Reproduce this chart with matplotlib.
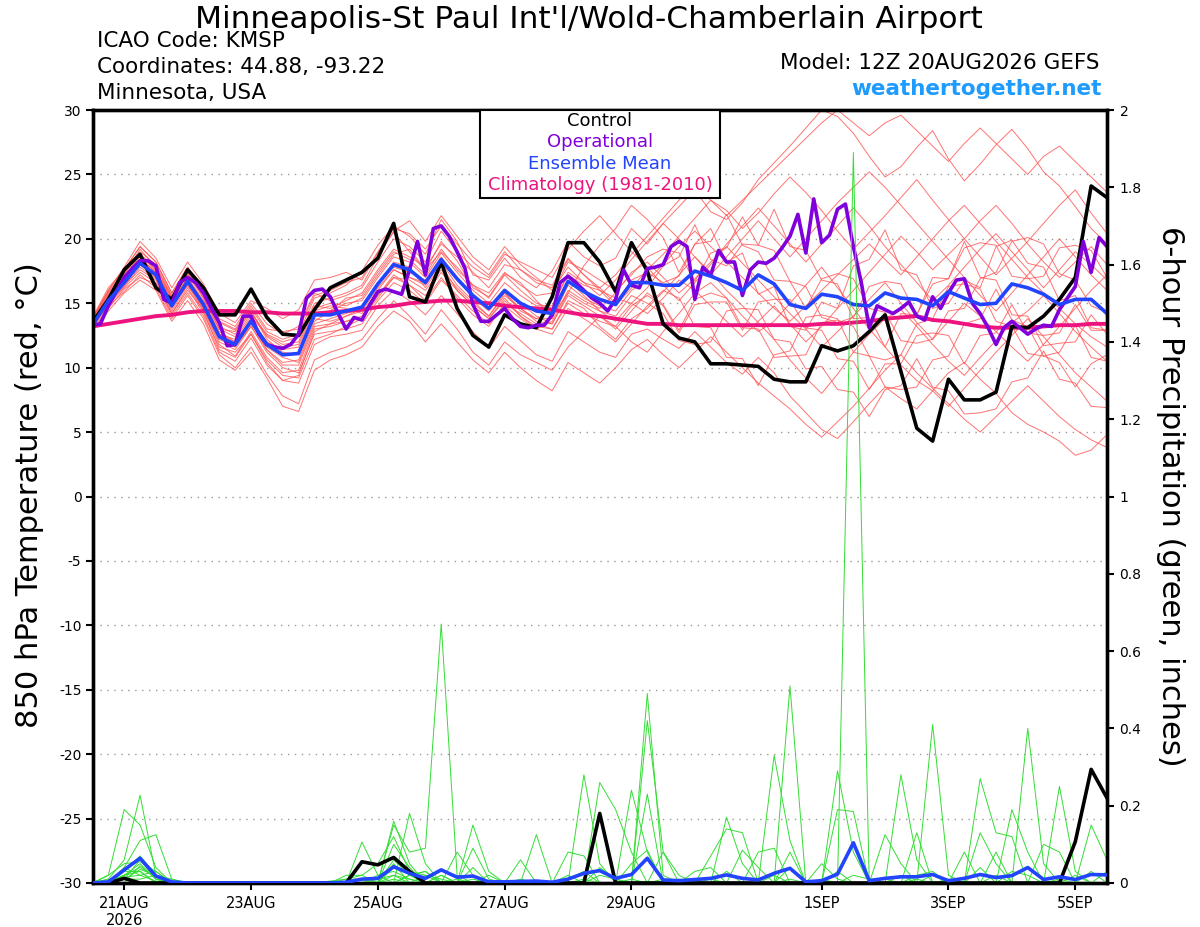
import numpy as np
import matplotlib
matplotlib.use('Agg')
import matplotlib.pyplot as plt
from matplotlib.patches import Rectangle

plt.rcParams['font.family'] = ['DejaVu Sans']

# ---------------- data ----------------
steps = np.arange(65)  # 6-hourly steps from 12Z 20AUG2026
tick_steps = [2, 10, 18, 26, 34, 46, 54, 62]
tick_labels = ['21AUG\n2026', '23AUG', '25AUG', '27AUG', '29AUG', '1SEP', '3SEP', '5SEP']

control = [13.5, 15.3, 17.6, 18.8, 16.2, 15.3, 17.6, 16.2, 14.1, 14.1, 16.1, 13.9, 12.6, 12.5, 14.5, 16.2,
           16.8, 17.4, 18.5, 21.2, 15.5, 15.1, 18.2, 14.6, 12.5, 11.6, 14.1, 13.4, 13.1, 15.5, 19.7, 19.7,
           18.2, 15.9, 19.7, 17.5, 13.4, 12.3, 12.0, 10.3, 10.3, 10.2, 10.1, 9.1, 8.9, 8.9, 11.7, 11.3,
           11.7, 12.8, 14.1, 9.7, 5.3, 4.3, 9.1, 7.5, 7.5, 8.1, 13.2, 13.1, 14.0, 15.3, 17.0, 24.1, 23.2]

ens_mean = [13.3, 15.2, 16.6, 18.1, 17.2, 14.8, 16.7, 14.9, 12.4, 11.8, 13.6, 11.8, 11.0, 11.1, 14.1, 14.1,
            14.4, 14.7, 16.5, 18.0, 17.6, 16.6, 18.4, 16.9, 15.6, 14.6, 16.0, 15.0, 14.4, 14.2, 16.7, 15.9,
            15.3, 14.9, 16.6, 16.6, 16.4, 16.4, 17.5, 17.1, 16.6, 16.0, 17.2, 16.5, 14.9, 14.6, 15.7, 15.5,
            14.9, 14.8, 15.8, 15.4, 15.3, 14.8, 15.9, 15.4, 14.9, 15.0, 16.5, 16.2, 15.7, 14.9, 15.3, 15.3, 14.2]

climatology = [13.2, 13.4, 13.6, 13.8, 14.0, 14.1, 14.3, 14.4, 14.4, 14.4, 14.3, 14.3, 14.2, 14.2, 14.2, 14.3,
               14.4, 14.5, 14.7, 14.8, 15.0, 15.1, 15.2, 15.2, 15.1, 15.0, 14.8, 14.7, 14.6, 14.5, 14.3, 14.1,
               14.0, 13.8, 13.6, 13.4, 13.4, 13.3, 13.3, 13.3, 13.3, 13.3, 13.3, 13.3, 13.3, 13.3, 13.4, 13.4,
               13.5, 13.6, 13.8, 13.9, 14.0, 13.7, 13.6, 13.4, 13.2, 13.1, 13.1, 13.1, 13.2, 13.3, 13.3, 13.4, 13.4]

# operational run, 3-hourly
operational = [13.3, 13.4, 14.8, 15.9, 17.0, 17.7, 18.3, 18.3, 17.9, 15.3, 15.0, 16.6, 17.0, 16.6, 15.8, 14.6,
               13.5, 11.7, 11.8, 14.0, 14.0, 12.6, 11.8, 11.6, 11.5, 11.8, 12.6, 15.4, 16.0, 16.1, 15.5, 14.2,
               13.0, 13.9, 13.7, 14.9, 15.9, 16.1, 15.9, 15.7, 17.6, 19.8, 17.2, 20.8, 21.0, 20.2, 19.0, 17.7,
               14.9, 13.6, 13.6, 14.1, 14.6, 13.8, 13.2, 13.1, 13.3, 13.3, 14.1, 16.6, 17.1, 16.6, 16.0, 15.4,
               15.0, 14.4, 15.3, 17.6, 16.4, 16.2, 17.7, 17.8, 18.0, 19.4, 19.8, 19.4, 15.3, 17.8, 17.2, 19.1,
               18.2, 18.2, 15.6, 17.6, 18.2, 18.1, 18.5, 19.3, 20.2, 21.9, 18.9, 23.1, 19.7, 20.3, 22.3, 22.7,
               19.4, 16.6, 13.1, 14.8, 14.5, 14.2, 14.6, 15.1, 14.0, 13.7, 15.5, 14.6, 15.8, 16.8, 16.9, 15.0,
               14.2, 13.1, 11.8, 13.1, 13.6, 13.1, 12.6, 13.0, 13.3, 13.2, 14.5, 15.4, 16.3, 19.8, 17.4, 20.1, 19.4]

members = [
    [13.6, 15.8, 17.2, 19.2, 17.8, 15.5, 17.4, 15.8, 13.5, 12.9, 14.6, 12.8, 12.2, 12.6, 15.4, 15.8, 16.4, 17.5, 19.5, 21.0,
     20.2, 18.8, 21.5, 19.8, 17.2, 16.8, 18.5, 17.0, 16.2, 17.5, 19.8, 18.6, 17.9, 18.5, 20.8, 19.6, 21.2, 22.5, 23.8, 22.1,
     21.5, 22.8, 24.6, 25.9, 27.2, 28.6, 30.0, 29.5, 28.2, 26.4, 24.8, 25.6, 27.1, 28.4, 26.2, 24.5, 25.8, 27.3, 28.5, 27.0,
     25.2, 24.1, 22.5, 20.8, 19.6],
    [13.0, 14.6, 16.1, 17.0, 16.5, 14.0, 15.8, 14.0, 11.2, 10.5, 12.3, 10.2, 9.0, 8.8, 11.8, 12.4, 12.6, 12.9, 14.8, 16.0,
     15.2, 14.1, 15.6, 14.2, 12.8, 11.5, 13.2, 12.1, 11.0, 10.5, 12.8, 12.0, 11.2, 10.8, 12.6, 13.0, 12.2, 11.5, 12.8, 11.6,
     10.4, 9.5, 10.8, 9.6, 7.8, 6.5, 5.2, 4.5, 5.8, 7.2, 8.5, 7.6, 6.8, 8.2, 9.6, 10.4, 9.1, 8.0, 6.5, 5.6,
     5.0, 4.3, 3.2, 3.6, 4.8],
    [13.8, 16.0, 17.8, 19.8, 18.5, 16.2, 18.2, 16.5, 14.2, 13.5, 15.2, 14.6, 13.8, 14.5, 16.8, 17.0, 17.4, 16.8, 18.9, 20.5,
     19.0, 17.5, 19.8, 18.3, 16.2, 15.5, 17.3, 16.6, 15.2, 14.0, 15.8, 17.9, 19.5, 20.8, 22.6, 21.5, 20.1, 17.4, 19.6, 20.8,
     18.2, 18.9, 15.7, 16.3, 13.2, 12.9, 15.1, 14.6, 17.9, 18.4, 20.7, 17.6, 17.2, 14.6, 15.0, 16.8, 16.2, 19.4, 19.9, 18.1,
     17.8, 15.2, 15.6, 13.1, 12.9],
    [13.2, 15.0, 16.4, 17.6, 16.8, 14.2, 16.0, 14.5, 11.8, 10.9, 12.8, 10.8, 9.6, 9.8, 13.0, 13.2, 13.6, 14.0, 15.6, 17.2,
     16.4, 15.2, 17.0, 15.4, 14.1, 13.2, 15.0, 14.2, 13.4, 13.0, 15.2, 14.6, 13.2, 12.2, 13.8, 14.6, 15.9, 17.2, 18.6, 17.4,
     16.0, 14.8, 13.5, 12.2, 10.6, 9.2, 8.0, 9.5, 11.2, 12.6, 13.8, 14.5, 13.2, 11.8, 10.5, 9.4, 10.8, 12.1, 13.5, 14.4,
     15.6, 14.2, 12.8, 11.6, 10.5],
    [13.5, 15.6, 17.0, 18.8, 17.6, 15.0, 16.9, 15.1, 12.6, 12.2, 14.0, 12.5, 11.8, 12.0, 14.8, 14.6, 15.2, 15.8, 17.6, 19.2,
     18.6, 17.8, 19.6, 18.6, 17.4, 16.2, 18.0, 17.6, 16.8, 16.4, 18.5, 17.2, 16.0, 14.8, 16.2, 17.6, 18.8, 20.2, 21.6, 23.0,
     22.2, 20.8, 22.0, 23.5, 24.8, 23.6, 22.2, 20.6, 19.2, 20.5, 21.8, 23.2, 24.6, 23.0, 21.5, 20.0, 18.6, 17.2, 18.5, 19.8,
     21.2, 22.6, 23.8, 22.0, 20.4],
    [13.1, 14.8, 15.9, 17.2, 16.2, 13.8, 15.6, 13.8, 11.0, 10.0, 11.6, 9.5, 7.8, 7.2, 10.6, 11.2, 11.6, 12.2, 13.8, 15.2,
     14.0, 12.6, 14.5, 13.0, 11.2, 10.2, 12.0, 11.0, 10.4, 9.8, 11.6, 12.8, 14.0, 13.2, 12.0, 11.2, 12.8, 14.2, 15.8, 16.6,
     15.4, 14.0, 12.8, 13.6, 15.0, 16.4, 17.8, 16.2, 14.6, 13.0, 11.6, 10.2, 9.0, 8.2, 7.0, 8.4, 9.8, 11.2, 12.5, 13.8,
     12.4, 11.0, 9.6, 8.5, 7.4],
    [13.4, 15.4, 16.9, 18.4, 17.5, 15.4, 17.3, 15.6, 13.2, 12.6, 14.4, 12.2, 11.2, 11.0, 13.8, 13.6, 14.0, 14.6, 16.4, 18.2,
     17.8, 16.2, 18.0, 16.0, 14.8, 13.8, 15.4, 14.0, 13.0, 13.6, 16.0, 15.2, 14.6, 15.8, 17.4, 18.2, 17.0, 15.8, 16.9, 18.2,
     19.4, 18.1, 16.8, 15.5, 14.2, 13.0, 11.6, 12.8, 14.0, 15.3, 16.6, 15.0, 13.5, 12.2, 13.6, 15.0, 14.0, 12.8, 11.6, 10.5,
     11.8, 13.2, 14.6, 16.0, 17.2],
    [13.3, 15.1, 16.5, 18.0, 17.0, 14.6, 16.6, 14.6, 12.0, 11.4, 13.2, 11.4, 10.4, 10.6, 13.6, 14.4, 15.0, 15.2, 17.0, 18.6,
     18.2, 17.0, 18.9, 17.4, 16.0, 15.0, 16.6, 15.6, 14.8, 14.8, 17.2, 16.4, 16.0, 15.4, 15.0, 14.2, 15.4, 16.8, 16.0, 14.8,
     13.6, 12.4, 13.6, 14.8, 13.4, 12.0, 13.2, 14.6, 16.0, 17.4, 18.8, 20.2, 19.0, 17.6, 18.8, 20.0, 21.4, 22.6, 21.2, 19.6,
     18.2, 17.0, 18.2, 19.4, 18.0],
    [13.9, 16.2, 17.6, 19.4, 18.2, 15.8, 17.8, 16.0, 13.8, 13.2, 15.0, 13.4, 12.6, 13.2, 15.8, 15.2, 15.6, 16.2, 18.2, 20.0,
     19.4, 18.2, 20.6, 19.0, 17.8, 17.0, 18.8, 18.2, 17.6, 17.0, 19.2, 20.6, 21.8, 20.4, 19.0, 17.8, 16.4, 15.2, 16.6, 18.0,
     19.6, 21.0, 22.4, 21.0, 19.6, 18.2, 19.6, 21.0, 22.4, 21.0, 19.4, 18.0, 16.6, 15.2, 16.4, 17.8, 19.2, 20.4, 19.0, 17.6,
     16.2, 17.6, 19.0, 18.0, 16.8],
    [13.0, 14.4, 15.8, 16.8, 16.0, 13.6, 15.2, 13.4, 10.6, 9.8, 11.2, 9.2, 7.0, 6.6, 9.8, 10.6, 11.0, 11.6, 13.2, 14.4,
     13.6, 12.0, 13.4, 12.0, 10.6, 9.6, 11.2, 10.0, 9.0, 8.2, 10.4, 9.6, 8.8, 10.0, 11.4, 12.2, 11.0, 10.0, 11.2, 12.4,
     11.2, 10.0, 8.8, 7.8, 6.8, 5.6, 4.6, 5.8, 7.0, 8.4, 9.8, 11.0, 9.6, 8.4, 7.2, 6.0, 5.0, 6.2, 7.4, 8.6,
     7.4, 6.2, 5.2, 4.4, 3.8],
    [13.6, 15.5, 17.0, 18.6, 17.6, 15.2, 17.0, 15.2, 12.8, 12.0, 13.8, 12.0, 11.4, 11.6, 14.4, 14.8, 14.6, 14.2, 16.0, 17.6,
     17.0, 16.6, 18.4, 17.0, 15.4, 14.4, 15.8, 14.6, 13.8, 14.4, 16.8, 15.6, 14.4, 13.6, 15.0, 16.2, 17.9, 18.6, 21.1, 18.4,
     17.9, 19.6, 19.5, 22.3, 19.4, 19.1, 16.8, 16.5, 13.8, 13.9, 11.6, 14.2, 14.1, 17.0, 16.9, 19.8, 17.0, 16.8, 14.1, 14.0,
     11.7, 11.9, 12.0, 14.1, 12.6],
    [13.2, 15.2, 16.8, 18.2, 17.2, 14.8, 16.8, 15.0, 12.4, 11.6, 13.4, 11.6, 10.8, 10.4, 13.4, 13.8, 14.2, 14.6, 16.4, 17.8,
     17.4, 16.8, 18.6, 16.8, 15.6, 14.6, 16.0, 15.0, 14.0, 13.4, 15.6, 14.8, 14.0, 13.0, 14.4, 15.8, 14.9, 12.9, 15.3, 15.8,
     15.4, 13.1, 13.0, 10.8, 10.9, 11.0, 13.5, 13.7, 13.2, 10.9, 10.6, 11.0, 13.4, 13.8, 16.3, 16.5, 16.1, 13.6, 13.2, 11.1,
     10.9, 11.2, 13.3, 10.8, 10.5],
    [13.7, 15.9, 17.4, 19.0, 18.0, 15.6, 17.6, 15.4, 13.0, 12.4, 14.2, 12.6, 12.0, 12.4, 15.0, 15.4, 15.8, 16.4, 18.6, 20.6,
     21.4, 19.8, 21.8, 20.2, 18.6, 17.6, 19.4, 18.0, 17.0, 16.0, 17.8, 16.6, 15.6, 16.8, 18.4, 19.8, 21.2, 20.0, 18.6, 17.2,
     18.6, 20.0, 21.4, 20.0, 18.6, 20.0, 21.4, 22.8, 24.0, 25.2, 24.0, 22.6, 21.2, 19.8, 18.4, 17.0, 15.6, 14.4, 15.8, 17.2,
     18.6, 20.0, 18.6, 17.2, 16.0],
    [13.4, 15.3, 16.6, 18.0, 17.2, 14.8, 16.4, 14.6, 12.2, 11.6, 13.2, 11.2, 10.0, 9.6, 12.6, 12.8, 13.0, 13.4, 15.2, 16.6,
     16.0, 15.0, 16.8, 15.6, 14.4, 13.4, 14.8, 13.8, 13.0, 12.6, 14.6, 13.8, 13.0, 12.0, 13.4, 14.8, 16.0, 15.4, 13.2, 13.1,
     10.8, 10.7, 8.6, 11.0, 11.3, 13.9, 14.1, 13.8, 11.2, 10.9, 8.5, 8.3, 8.5, 10.6, 10.9, 13.4, 13.8, 16.1, 13.7, 13.2,
     10.9, 10.4, 8.5, 10.3, 11.0],
    [13.5, 15.5, 17.0, 18.4, 17.4, 15.0, 17.0, 15.0, 12.6, 12.0, 13.8, 11.8, 11.0, 11.2, 14.2, 14.4, 15.4, 15.6, 17.4, 19.0,
     18.4, 17.2, 19.2, 17.6, 16.4, 15.4, 17.2, 16.0, 15.0, 14.6, 17.4, 16.6, 16.2, 15.0, 16.8, 17.4, 16.6, 17.1, 19.6, 19.8,
     21.9, 19.5, 19.0, 16.8, 16.7, 14.6, 16.9, 17.3, 16.9, 14.6, 14.3, 12.1, 11.9, 12.2, 14.4, 14.6, 16.9, 17.4, 19.8, 20.1,
     19.6, 17.3, 16.8, 14.8, 14.3],
    [13.3, 14.9, 16.2, 17.4, 16.6, 14.2, 16.2, 14.2, 11.6, 11.2, 12.6, 10.6, 9.4, 9.2, 12.2, 12.6, 13.2, 13.8, 15.6, 17.0,
     16.8, 16.0, 17.6, 16.2, 15.0, 14.0, 15.6, 14.6, 13.6, 13.4, 15.8, 15.0, 14.4, 14.0, 15.6, 15.0, 14.2, 12.1, 11.8, 12.0,
     14.4, 14.6, 14.5, 12.2, 12.0, 9.9, 10.1, 8.3, 8.1, 6.2, 8.3, 8.6, 10.7, 8.5, 8.2, 6.4, 6.5, 6.8, 8.9, 9.2,
     11.3, 9.1, 8.8, 7.0, 6.9],
    [13.6, 15.7, 17.3, 18.8, 17.8, 15.4, 17.2, 15.4, 13.0, 12.8, 14.4, 12.4, 11.6, 11.8, 14.6, 15.0, 14.8, 15.4, 17.2, 18.8,
     19.2, 17.6, 19.0, 17.8, 16.4, 15.8, 17.4, 16.4, 15.6, 15.8, 18.2, 17.6, 16.8, 16.0, 17.2, 18.6, 19.2, 18.9, 16.7, 18.9,
     19.3, 21.7, 19.5, 19.1, 16.7, 16.3, 13.9, 13.5, 13.9, 16.3, 16.7, 16.5, 14.1, 16.5, 16.9, 19.3, 19.7, 19.5, 17.1, 16.9,
     17.1, 19.3, 19.5, 19.1, 17.0],
    [13.2, 15.0, 16.3, 17.8, 16.9, 14.4, 16.4, 14.4, 11.4, 10.8, 12.6, 10.4, 9.0, 9.4, 12.8, 13.4, 14.0, 14.4, 16.2, 17.6,
     17.0, 16.4, 18.2, 16.4, 15.2, 14.0, 15.8, 14.4, 13.8, 13.8, 16.4, 15.4, 14.8, 14.4, 16.0, 16.8, 18.0, 19.4, 20.6, 19.4,
     18.2, 17.0, 15.8, 14.6, 13.6, 14.8, 16.0, 17.2, 18.4, 19.6, 18.4, 17.2, 18.6, 20.0, 21.4, 22.6, 21.2, 19.8, 18.4, 17.0,
     15.8, 14.6, 13.4, 12.4, 11.6],
    [13.4, 15.2, 16.8, 18.4, 17.4, 15.0, 16.8, 15.0, 12.6, 11.8, 13.6, 11.4, 10.2, 10.2, 13.2, 13.4, 13.6, 13.8, 15.4, 17.0,
     16.4, 15.6, 17.4, 16.0, 14.8, 13.8, 15.2, 14.0, 13.2, 13.0, 15.0, 14.2, 13.6, 13.2, 14.8, 15.6, 14.8, 12.7, 14.9, 15.1,
     15.1, 12.9, 15.1, 15.3, 15.3, 13.1, 12.9, 10.7, 10.5, 8.3, 10.3, 10.3, 12.5, 12.7, 12.5, 10.3, 12.5, 12.7, 14.9, 12.7,
     12.5, 12.7, 14.9, 12.9, 12.9],
    [13.8, 16.0, 17.6, 19.4, 18.2, 15.8, 17.8, 16.2, 13.6, 13.0, 14.8, 13.0, 12.8, 13.0, 15.6, 16.0, 16.6, 17.0, 19.0, 20.8,
     20.4, 19.2, 21.0, 19.6, 18.2, 17.2, 19.0, 17.6, 16.6, 16.2, 18.4, 17.2, 16.2, 17.2, 18.8, 20.2, 21.6, 23.0, 24.2, 23.0,
     21.8, 23.0, 24.2, 25.4, 26.6, 27.8, 29.0, 30.0, 29.0, 28.0, 29.0, 29.6, 28.4, 27.2, 26.0, 27.4, 28.6, 27.4, 26.2, 25.0,
     26.4, 27.2, 26.0, 24.8, 23.6],
]

precip_control = [0, 0, 0.012, 0, 0, 0, 0, 0, 0, 0, 0, 0, 0, 0, 0, 0,
                  0, 0.055, 0.047, 0.066, 0.03, 0, 0, 0, 0, 0, 0, 0, 0, 0, 0, 0,
                  0.18, 0, 0, 0, 0, 0, 0, 0, 0, 0, 0, 0, 0, 0, 0, 0,
                  0, 0, 0, 0, 0, 0, 0, 0, 0, 0, 0, 0, 0, 0, 0.107, 0.294, 0.22]

precip_mean = [0, 0.003, 0.034, 0.064, 0.018, 0.003, 0, 0, 0, 0, 0, 0, 0, 0, 0, 0,
               0.002, 0.01, 0.012, 0.042, 0.025, 0.012, 0.034, 0.015, 0.018, 0.003, 0.003, 0.004, 0.005, 0.002, 0.01, 0.025,
               0.032, 0.012, 0.022, 0.064, 0.008, 0.006, 0.009, 0.012, 0.021, 0.012, 0.008, 0.025, 0.038, 0.003, 0.006, 0.023,
               0.104, 0.006, 0.012, 0.016, 0.016, 0.022, 0.006, 0.012, 0.022, 0.014, 0.019, 0.04, 0.009, 0.016, 0.009, 0.022, 0.021]

# precipitation members: {step: inches}; unlisted steps are 0
precip_member_events = [
    {1: 0.02, 2: 0.19, 3: 0.15, 4: 0.04, 19: 0.16, 20: 0.05, 22: 0.02, 35: 0.49, 36: 0.02, 44: 0.08, 53: 0.41, 54: 0.02},
    {1: 0.01, 2: 0.06, 3: 0.227, 4: 0.02, 17: 0.106, 18: 0.02, 24: 0.15, 25: 0.03, 40: 0.17, 41: 0.05, 48: 1.89, 56: 0.13, 57: 0.05},
    {2: 0.04, 3: 0.11, 4: 0.125, 5: 0.01, 20: 0.18, 21: 0.05, 31: 0.28, 32: 0.05, 43: 0.33, 44: 0.11, 59: 0.40, 60: 0.05},
    {2: 0.03, 3: 0.07, 4: 0.02, 19: 0.15, 20: 0.08, 21: 0.09, 22: 0.67, 23: 0.02, 34: 0.24, 35: 0.08, 47: 0.19, 48: 0.185, 61: 0.25, 62: 0.03},
    {1: 0.02, 2: 0.05, 3: 0.055, 4: 0.03, 16: 0.02, 17: 0.02, 18: 0.05, 19: 0.12, 20: 0.03, 32: 0.26, 33: 0.19, 34: 0.08, 44: 0.51, 51: 0.28, 52: 0.06, 63: 0.15, 64: 0.06},
    {2: 0.02, 3: 0.04, 4: 0.015, 19: 0.10, 20: 0.04, 24: 0.09, 25: 0.01, 28: 0.125, 35: 0.42, 36: 0.08, 47: 0.29, 48: 0.08, 58: 0.19, 59: 0.08},
    {2: 0.03, 3: 0.03, 19: 0.06, 20: 0.02, 21: 0.03, 23: 0.08, 24: 0.02, 27: 0.06, 30: 0.08, 31: 0.07, 35: 0.23, 39: 0.07, 40: 0.14, 41: 0.13, 52: 0.13, 56: 0.27, 57: 0.13, 58: 0.12},
    {1: 0.01, 2: 0.01, 3: 0.06, 4: 0.01, 16: 0.01, 17: 0.01, 19: 0.04, 20: 0.03, 21: 0.02, 30: 0.02, 32: 0.04, 33: 0.01, 38: 0.03, 39: 0.04, 42: 0.08, 43: 0.09, 50: 0.125, 51: 0.05, 55: 0.08, 60: 0.1, 61: 0.08},
    {2: 0.04, 3: 0.02, 4: 0.03, 18: 0.02, 19: 0.03, 20: 0.01, 26: 0.005, 36: 0.08, 37: 0.02, 41: 0.085, 42: 0.04, 46: 0.05, 47: 0.01, 57: 0.08, 64: 0.03},
    {2: 0.02, 3: 0.05, 4: 0.01, 15: 0.005, 16: 0.01, 17: 0.02, 19: 0.05, 21: 0.02, 22: 0.01, 24: 0.04, 34: 0.05, 35: 0.085, 44: 0.04, 52: 0.02, 53: 0.03, 62: 0.02},
    {2: 0.01, 3: 0.035, 4: 0.02, 5: 0.01, 20: 0.02, 21: 0.03, 25: 0.02, 30: 0.01, 31: 0.03, 39: 0.01, 43: 0.02, 47: 0.03, 54: 0.01, 56: 0.04},
    {3: 0.045, 4: 0.01, 18: 0.01, 19: 0.02, 20: 0.01, 23: 0.01, 32: 0.02, 33: 0.01, 40: 0.03, 48: 0.02, 49: 0.01, 50: 0.01, 58: 0.03, 59: 0.02},
    {2: 0.015, 3: 0.02, 4: 0.005, 19: 0.01, 24: 0.01, 31: 0.01, 34: 0.01, 44: 0.01, 52: 0.01, 61: 0.01},
    {1: 0.005, 2: 0.02, 3: 0.03, 20: 0.02, 27: 0.01, 36: 0.01, 46: 0.01, 53: 0.02, 63: 0.03},
    {2: 0.01, 3: 0.01, 4: 0.02, 19: 0.02, 22: 0.02, 37: 0.01, 51: 0.02, 57: 0.02},
]

title = "Minneapolis-St Paul Int'l/Wold-Chamberlain Airport"
header_left = ["ICAO Code: KMSP", "Coordinates: 44.88, -93.22", "Minnesota, USA"]
model_text = "Model: 12Z 20AUG2026 GEFS"
site_text = "weathertogether.net"
legend_items = [("Control", "#000000"), ("Operational", "#8000DC"),
                ("Ensemble Mean", "#2244FF"), ("Climatology (1981-2010)", "#EE1480")]

# ---------------- figure ----------------
W, H = 1200, 927
fig = plt.figure(figsize=(W / 100, H / 100), dpi=100)
L, R, T, B = 92.5, 1107, 110, 883
ax = fig.add_axes([L / W, 1 - B / H, (R - L) / W, (B - T) / H])
ax2 = ax.twinx()

red = '#FF5050'
green = '#33DD33'
for m in members:
    ax.plot(steps[:len(m)], m, color=red, lw=0.7, alpha=0.8, zorder=1)
ax.plot(steps[:len(climatology)], climatology, color='#EE1480', lw=2.8, zorder=3, solid_capstyle='butt')
ax.plot(steps[:len(control)], control, color='black', lw=2.6, zorder=4)
op_x = np.arange(len(operational)) * 0.5
ax.plot(op_x, operational, color='#8000DC', lw=2.6, zorder=5)
ax.plot(steps[:len(ens_mean)], ens_mean, color='#2244FF', lw=2.6, zorder=6)

for ev in precip_member_events:
    arr = np.zeros(len(steps))
    for k, v in ev.items():
        arr[k] = v
    ax2.plot(steps, arr, color=green, lw=0.7, zorder=2)
ax2.plot(steps[:len(precip_control)], precip_control, color='black', lw=2.6, zorder=4)
ax2.plot(steps[:len(precip_mean)], precip_mean, color='#2244FF', lw=2.6, zorder=6)

ax.set_xlim(0, 64)
ax.set_ylim(-30, 30)
ax2.set_ylim(0, 2)
ax.set_yticks(np.arange(-30, 31, 5))
ax.set_yticklabels([str(v) for v in range(-30, 31, 5)])
r_ticks = np.round(np.arange(0, 2.01, 0.2), 1)
ax2.set_yticks(r_ticks)
ax2.set_yticklabels([f'{v:g}' for v in r_ticks])
ax.set_xticks(tick_steps)
ax.set_xticklabels(tick_labels)

ax.yaxis.grid(True, linestyle=(0, (1, 4)), color='#999999', lw=1.0)
ax.set_axisbelow(True)

for a in (ax, ax2):
    for s in a.spines.values():
        s.set_linewidth(2.4)
ax.tick_params(axis='both', direction='out', length=5, width=1.5, labelsize=10, pad=3)
ax.tick_params(axis='x', labelsize=10.5, pad=4)
ax2.tick_params(axis='y', direction='out', length=5, width=1.5, labelsize=10, pad=4)

# ---------------- texts ----------------
fig.text(589 / W, 1 - 19 / H, title, ha='center', va='center', fontsize=22.5)
for i, t in enumerate(header_left):
    fig.text(97 / W, 1 - (41 + 26 * i) / H, t, ha='left', va='center', fontsize=15.5)
fig.text(1100 / W, 1 - 63 / H, model_text, ha='right', va='center', fontsize=15.5)
fig.text(1102 / W, 1 - 89 / H, site_text, ha='right', va='center', fontsize=15.5,
         fontweight='bold', color='#1E9BFF')

fig.text(30 / W, 1 - 495 / H, "850 hPa Temperature (red, \u00b0C)", rotation=90,
         ha='center', va='center', fontsize=22)
fig.text(1170 / W, 1 - 496 / H, "6-hour Precipitation (green, inches)", rotation=270,
         ha='center', va='center', fontsize=22)

# legend box
fig.add_artist(Rectangle((480 / W, 1 - 198 / H), 240 / W, 88 / H, transform=fig.transFigure,
                         facecolor='white', edgecolor='black', lw=1.5, zorder=10))
for i, (lab, col) in enumerate(legend_items):
    fig.text(600 / W, 1 - (121 + 21.3 * i) / H, lab, ha='center', va='center',
             fontsize=13, color=col, zorder=11)

fig.savefig('out.png', dpi=100)
